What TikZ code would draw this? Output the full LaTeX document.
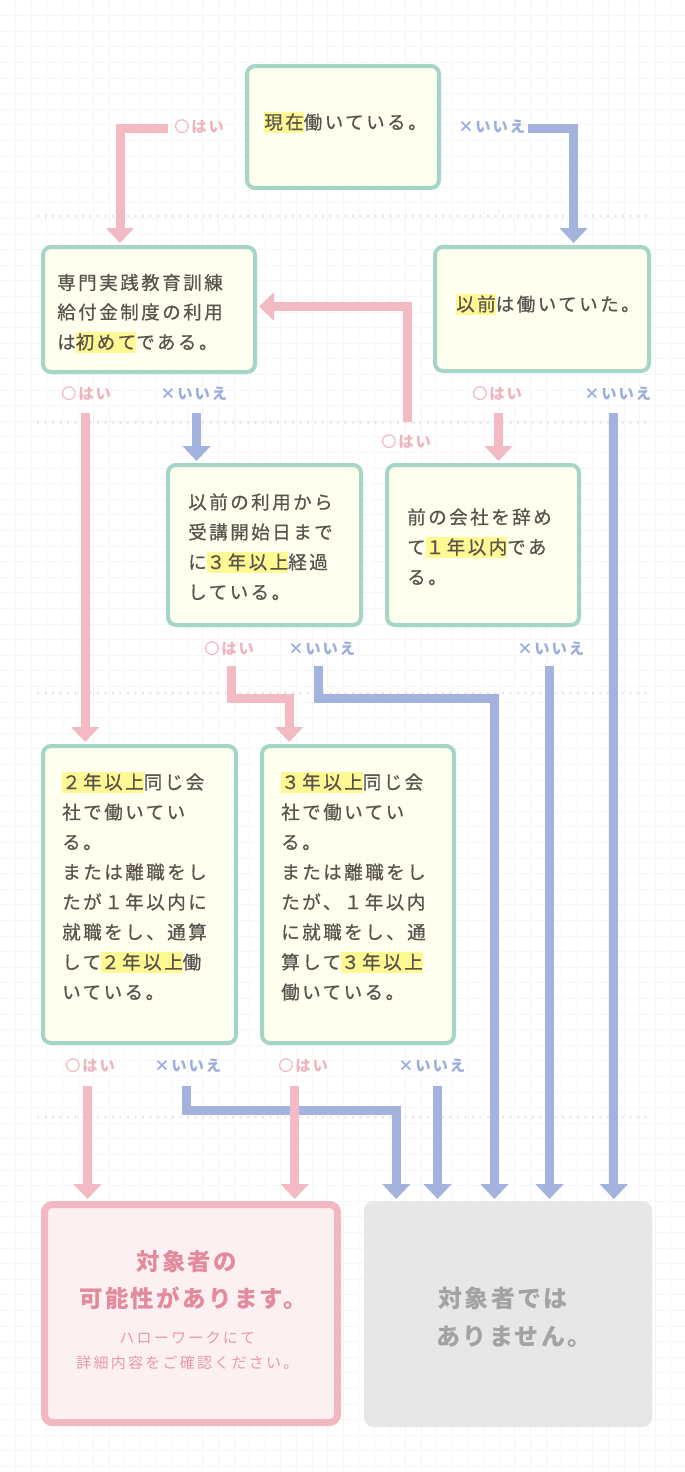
\documentclass[tikz,border=0pt]{standalone}
\usepackage{fontspec}
\usetikzlibrary{arrows.meta}
\newfontfamily\jpmain{Noto Sans CJK JP}[LetterSpace=13.5,FakeBold=0.6]
\newfontfamily\jplab{Noto Sans CJK JP}[LetterSpace=12]
\newfontfamily\jphead{Noto Sans CJK JP}[LetterSpace=10]
\newfontfamily\jpsub{Noto Sans CJK JP}[LetterSpace=15]
\definecolor{tealb}{HTML}{A5D5C6}
\definecolor{cream}{HTML}{FFFFF0}
\definecolor{hly}{HTML}{FFF994}
\definecolor{txt}{HTML}{5A524D}
\definecolor{pinkl}{HTML}{F3BAC3}
\definecolor{bluel}{HTML}{A3B3DE}
\definecolor{pinkt}{HTML}{F0B3BE}
\definecolor{bluet}{HTML}{9DADDC}
\definecolor{pinkb}{HTML}{F2B8C1}
\definecolor{pinkf}{HTML}{FDF0F3}
\definecolor{pinkh}{HTML}{E38A9C}
\definecolor{pinks}{HTML}{E79AA8}
\definecolor{grayf}{HTML}{E7E7E7}
\definecolor{grayt}{HTML}{A3A3A3}
\definecolor{gridc}{HTML}{F5F7F7}
\definecolor{dotc}{HTML}{DFE4E4}
\newcommand\hlt[1]{{\setlength{\fboxsep}{0pt}\colorbox{hly}{\rule[-0.19em]{0pt}{1.12em}#1}}}
\newcommand\yes{{\mdseries 〇}\kern0.12em はい}
\tikzset{
  sz/.style n args={2}{minimum width=#1*0.75pt, minimum height=#2*0.75pt},
  qbox/.style={draw=tealb, line width=3pt, fill=cream, rounded corners=6pt, outer sep=3pt, inner sep=0pt},
  tx/.style={anchor=west, inner sep=0pt, text=txt, font=\jpmain\fontsize{13.875pt}{22.5pt}\selectfont, text height=12.2pt, text depth=1.67pt},
  yl/.style={anchor=west, inner sep=0pt, text=pinkt, font=\jplab\bfseries\fontsize{11.5pt}{14pt}\selectfont},
  nl/.style={anchor=west, inner sep=0pt, text=bluet, font=\jplab\bfseries\fontsize{11.5pt}{14pt}\selectfont},
  pk/.style={draw=pinkl, line width=6.75pt, -{Triangle[width=20.5pt,length=11.25pt]}},
  bl/.style={draw=bluel, line width=6.75pt, -{Triangle[width=20.5pt,length=11.25pt]}},
  hd/.style={anchor=west, inner sep=0pt, text=pinkh, font=\jphead\bfseries\fontsize{17.6pt}{22pt}\selectfont},
  sb/.style={anchor=west, inner sep=0pt, text=pinks, font=\jpsub\fontsize{11.25pt}{14pt}\selectfont},
  gt/.style={anchor=west, inner sep=0pt, text=grayt, font=\jphead\bfseries\fontsize{18pt}{22pt}\selectfont},
  sep/.style={draw=dotc, line width=1.9pt, line cap=round, dash pattern=on 0pt off 5.625pt},
  gridline/.style={draw=gridc, line width=0.75pt},
}
\begin{document}
\begin{tikzpicture}[x=0.75pt, y=-0.75pt]
\useasboundingbox (0,0) rectangle (685,1472);
\fill[white] (0,0) rectangle (685,1472);
% grid
\foreach \i in {1,...,43} \draw[gridline] ({15.6*\i},0) -- ({15.6*\i},1472);
\foreach \j in {1,...,94} \draw[gridline] (0,{15.6*\j}) -- (685,{15.6*\j});
% separators
\foreach \yy in {216,422.5,693,1117} \draw[sep] (38,\yy) -- (652,\yy);

% boxes
\node[qbox, sz={192}{122}] (q1) at (343,127) {};
\node[qbox, sz={212}{125}] (q2) at (149,309.5) {};
\node[qbox, sz={214}{124}] (q3) at (542,309) {};
\node[qbox, sz={193}{160}] (q4) at (264.5,545) {};
\node[qbox, sz={192}{160}] (q5) at (483,545) {};
\node[qbox, sz={193}{297}] (q6) at (139.5,894.5) {};
\node[qbox, sz={192}{297}] (q7) at (358,894.5) {};
\node[draw=pinkb, line width=5.25pt, fill=pinkf, rounded corners=6pt, outer sep=4.1pt, inner sep=0pt, sz={293}{218}] (r1) at (191,1313.5) {};
\node[fill=grayf, rounded corners=7pt, outer sep=1.5pt, inner sep=0pt, sz={288}{226}] (r2) at (508,1314) {};

% box texts
\node[tx] (q1a) at (264,122) {\hlt{現在}働いている。};
\node[tx] (q2a) at (57,282.5) {専門実践教育訓練};
\node[tx] (q2b) at (57,312) {給付金制度の利用};
\node[tx] (q2c) at (57,342) {は\hlt{初めて}である。};
\node[tx] (q3a) at (456,304) {\hlt{以前}は働いていた。};
\node[tx] (q4a) at (188,502) {以前の利用から};
\node[tx] (q4b) at (188,532) {受講開始日まで};
\node[tx] (q4c) at (188,562) {に\hlt{３年以上}経過};
\node[tx] (q4d) at (188,592) {している。};
\node[tx] (q5a) at (407,517) {前の会社を辞め};
\node[tx] (q5b) at (407,547) {て\hlt{１年以内}であ};
\node[tx] (q5c) at (407,577) {る。};
\node[tx] (q6a) at (62,782) {\hlt{２年以上}同じ会};
\node[tx] (q6b) at (62,812) {社で働いてい};
\node[tx] (q6c) at (62,842) {る。};
\node[tx] (q6d) at (62,872) {または離職をし};
\node[tx] (q6e) at (62,902) {たが１年以内に};
\node[tx] (q6f) at (62,932) {就職をし、通算};
\node[tx] (q6g) at (62,962) {して\hlt{２年以上}働};
\node[tx] (q6h) at (62,992) {いている。};
\node[tx] (q7a) at (281,782) {\hlt{３年以上}同じ会};
\node[tx] (q7b) at (281,812) {社で働いてい};
\node[tx] (q7c) at (281,842) {る。};
\node[tx] (q7d) at (281,872) {または離職をし};
\node[tx] (q7e) at (281,902) {たが、１年以内};
\node[tx] (q7f) at (281,932) {に就職をし、通};
\node[tx] (q7g) at (281,962) {算して\hlt{３年以上}};
\node[tx] (q7h) at (281,992) {働いている。};

\node[hd] (r1a) at (136,1261.5) {対象者の};
\node[hd] (r1b) at (79,1298) {可能性があります。};
\node[sb] (r1c) at (119,1338) {ハローワークにて};
\node[sb] (r1d) at (76,1363) {詳細内容をご確認ください。};
\node[gt] (r2a) at (438,1298) {対象者では};
\node[gt] (r2b) at (436,1336.5) {ありません。};

% labels
\node[yl] (y1) at (174,127) {\yes};
\node[nl] (n1) at (458,127) {×いいえ};
\node[yl] (y2) at (61,394) {\yes};
\node[nl] (n2) at (160,394) {×いいえ};
\node[yl] (y3) at (472,394) {\yes};
\node[nl] (n3) at (584,394) {×いいえ};
\node[yl] (y4) at (381,442) {\yes};
\node[yl] (y5) at (204,649) {\yes};
\node[nl] (n5) at (288,649) {×いいえ};
\node[nl] (n6) at (517,649) {×いいえ};
\node[yl] (y7) at (65,1066) {\yes};
\node[nl] (n7) at (154,1066) {×いいえ};
\node[yl] (y8) at (278,1066) {\yes};
\node[nl] (n8) at (398,1066) {×いいえ};

% connector anchor coordinates
\coordinate (a1s) at (168,128);   \coordinate (a1x) at (120,0);
\coordinate (a2s) at (528,128);   \coordinate (a2x) at (573.6,0);
\coordinate (a3s) at (85.2,412.7);
\coordinate (a4s) at (196.6,412.7);
\coordinate (a5s) at (407,422.3); \coordinate (a5y) at (0,306.5);
\coordinate (a6s) at (498.5,412.7);
\coordinate (a7s) at (613.8,412.7);
\coordinate (a8s) at (231.2,666); \coordinate (a8b) at (231.2,698.8); \coordinate (a8x) at (289.2,0);
\coordinate (a9s) at (318.8,666); \coordinate (a9b) at (318.8,698.8); \coordinate (a9x) at (494.5,0);
\coordinate (a10s) at (549.5,666);
\coordinate (a11s) at (87.5,1086);
\coordinate (a12s) at (186.7,1086); \coordinate (a12b) at (186.7,1110.5); \coordinate (a12x) at (396.3,0);
\coordinate (a13s) at (294.7,1086);
\coordinate (a14s) at (437.6,1086);

% blue connectors
\draw[bl] (a2s) -| (a2x |- q3.north);
\draw[bl] (a4s) -- (a4s |- q4.north);
\draw[bl] (a7s) -- (a7s |- r2.north);
\draw[bl] (a9s) -- (a9b) -| (a9x |- r2.north);
\draw[bl] (a10s) -- (a10s |- r2.north);
\draw[bl] (a12s) -- (a12b) -| (a12x |- r2.north);
\draw[bl] (a14s) -- (a14s |- r2.north);
% pink connectors
\draw[pk] (a1s) -| (a1x |- q2.north);
\draw[pk] (a3s) -- (a3s |- q6.north);
\draw[pk] (a5s) |- (q2.east |- a5y);
\draw[pk] (a6s) -- (a6s |- q5.north);
\draw[pk] (a8s) -- (a8b) -| (a8x |- q7.north);
\draw[pk] (a11s) -- (a11s |- r1.north);
\draw[pk] (a13s) -- (a13s |- r1.north);
\end{tikzpicture}
\end{document}
